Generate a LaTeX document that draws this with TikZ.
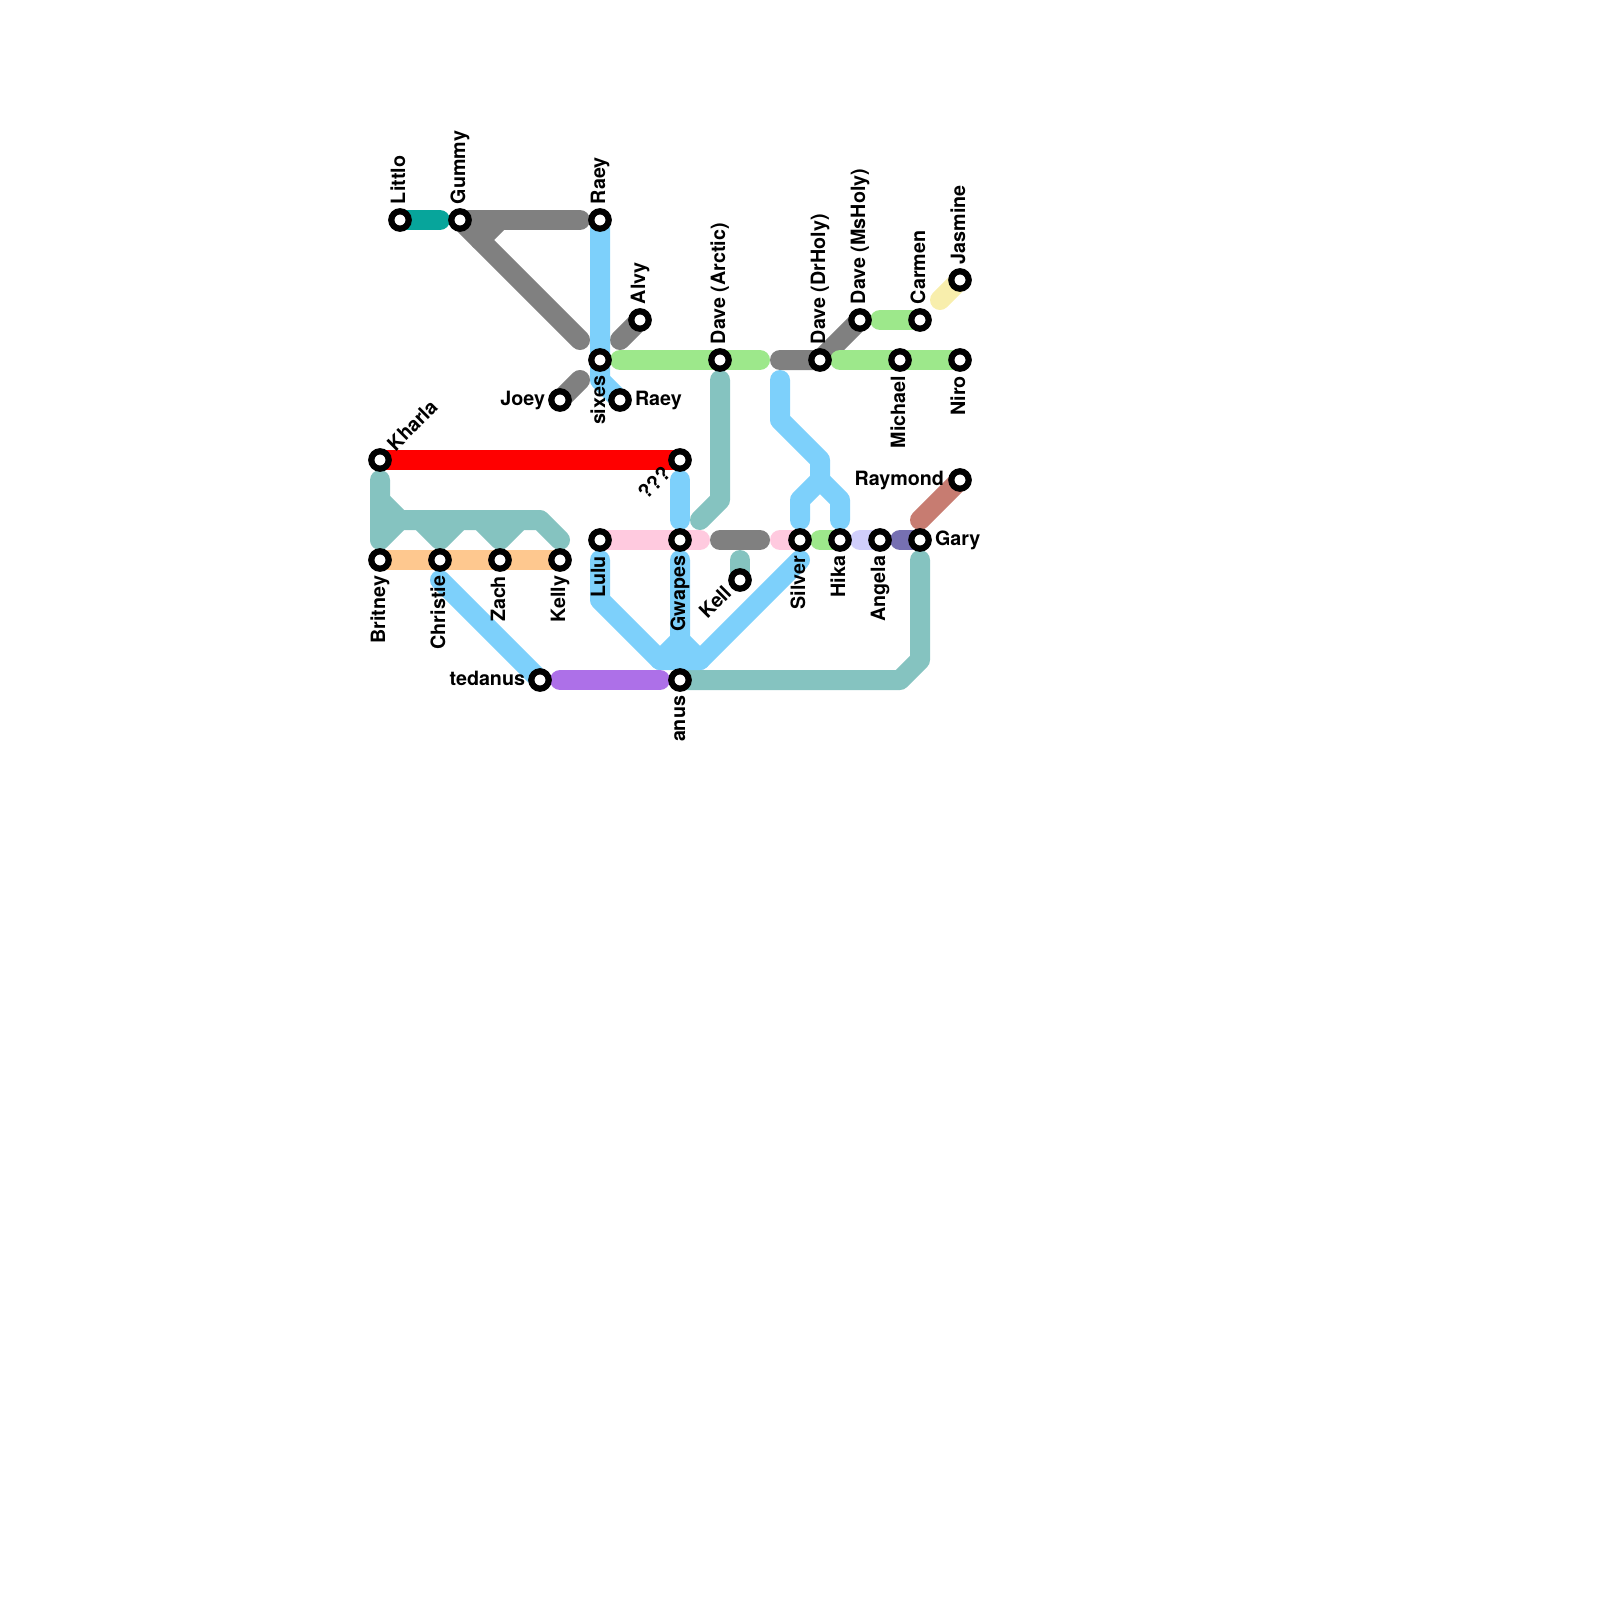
\documentclass[tikz,border=0pt]{standalone}
\usepackage{fontspec}
\setmainfont{TeX Gyre Heros}
\definecolor{cteal}{HTML}{07A59B}
\definecolor{cgrey}{HTML}{808080}
\definecolor{cblue}{HTML}{7DD0FB}
\definecolor{cgreen}{HTML}{9DE88B}
\definecolor{cfoam}{HTML}{85C3C0}
\definecolor{corange}{HTML}{FEC88F}
\definecolor{cpink}{HTML}{FFCADF}
\definecolor{cpurple}{HTML}{AD70E8}
\definecolor{clav}{HTML}{D0CEFB}
\definecolor{cslate}{HTML}{7670B2}
\definecolor{cbrown}{HTML}{C77C71}
\definecolor{cyellow}{HTML}{F8EEAC}
\tikzset{
  x=1pt,y=-1pt,
  metro/.style={line width=20pt,line cap=round,line join=round},
  stn/.style={circle,draw=black,fill=white,line width=6.2pt,minimum size=17.4pt,inner sep=0pt,outer sep=0pt},
  lab/.style={inner sep=0pt,outer sep=0pt,font=\fontsize{19.7}{24}\selectfont\bfseries,text=black},
  up/.style={lab,rotate=90,anchor=base west},
  down/.style={lab,rotate=90,anchor=base east},
  lft/.style={lab,anchor=base east},
  rgt/.style={lab,anchor=base west},
  dgup/.style={lab,rotate=45,anchor=base west},
  dgdown/.style={lab,rotate=45,anchor=base east},
}
\begin{document}
\begin{tikzpicture}
\useasboundingbox (0,0) rectangle (1600,1600);
% station positions
\coordinate (littlo) at (400,220);
\coordinate (gummy) at (460,220);
\coordinate (raeyA) at (600,220);
\coordinate (alvy) at (640,320);
\coordinate (sixes) at (600,360);
\coordinate (joey) at (560,400);
\coordinate (raeyB) at (620,400);
\coordinate (kharla) at (380,460);
\coordinate (qqq) at (680,460);
\coordinate (britney) at (380,560);
\coordinate (christie) at (440,560);
\coordinate (zach) at (500,560);
\coordinate (kelly) at (560,560);
\coordinate (lulu) at (600,540);
\coordinate (gwapes) at (680,540);
\coordinate (kell) at (740,580);
\coordinate (silver) at (800,540);
\coordinate (hika) at (840,540);
\coordinate (angela) at (880,540);
\coordinate (gary) at (920,540);
\coordinate (raymond) at (960,480);
\coordinate (tedanus) at (540,680);
\coordinate (anus) at (680,680);
\coordinate (arctic) at (720,360);
\coordinate (drholy) at (820,360);
\coordinate (msholy) at (860,320);
\coordinate (carmen) at (920,320);
\coordinate (jasmine) at (960,280);
\coordinate (michael) at (900,360);
\coordinate (niro) at (960,360);
% way points
\coordinate (g1) at (440,220);
\coordinate (g2) at (580,220);
\coordinate (g3) at (500,220);
\coordinate (g4) at (480,240);
\coordinate (g5) at (580,340);
\coordinate (g6) at (620,340);
\coordinate (g7) at (580,380);
\coordinate (g8) at (780,360);
\coordinate (g9) at (720,540);
\coordinate (g10) at (760,540);
\coordinate (b1) at (600,380);
\coordinate (b2) at (680,480);
\coordinate (b3) at (680,520);
\coordinate (b4) at (680,560);
\coordinate (b5) at (680,640);
\coordinate (b6) at (660,660);
\coordinate (b7) at (700,660);
\coordinate (b8) at (600,560);
\coordinate (b9) at (600,600);
\coordinate (b10) at (800,560);
\coordinate (b11) at (440,580);
\coordinate (b12) at (780,380);
\coordinate (b13) at (780,420);
\coordinate (b14) at (820,460);
\coordinate (b15) at (820,480);
\coordinate (b16) at (800,500);
\coordinate (b17) at (800,520);
\coordinate (b18) at (840,500);
\coordinate (b19) at (840,520);
\coordinate (f1) at (380,480);
\coordinate (f2) at (380,540);
\coordinate (f3) at (380,500);
\coordinate (f4) at (400,520);
\coordinate (f5) at (540,520);
\coordinate (f6) at (560,540);
\coordinate (f7) at (420,520);
\coordinate (f8) at (440,540);
\coordinate (f9) at (460,520);
\coordinate (f10) at (480,520);
\coordinate (f11) at (500,540);
\coordinate (f12) at (520,520);
\coordinate (f13) at (720,380);
\coordinate (f14) at (720,500);
\coordinate (f15) at (700,520);
\coordinate (f16) at (920,560);
\coordinate (f17) at (920,660);
\coordinate (f18) at (900,680);
\coordinate (f19) at (740,560);
\coordinate (n1) at (620,360);
\coordinate (n2) at (760,360);
\coordinate (n3) at (840,360);
\coordinate (n4) at (880,320);
\coordinate (n5) at (820,540);
\coordinate (p1) at (700,540);
\coordinate (p2) at (780,540);
\coordinate (v1) at (860,540);
\coordinate (v2) at (900,540);
\coordinate (u1) at (560,680);
\coordinate (u2) at (660,680);
\coordinate (y1) at (940,300);
\coordinate (br1) at (920,520);
% grey
\draw[metro,cgrey] (gummy) -- (g2);
\draw[metro,cgrey] (gummy) -- (g4) -- (g5);
\draw[metro,cgrey] (g3) -- (g4);
\draw[metro,cgrey] (alvy) -- (g6);
\draw[metro,cgrey] (joey) -- (g7);
\draw[metro,cgrey] (g8) -- (drholy) -- (msholy);
\draw[metro,cgrey] (g9) -- (g10);
% others
\draw[metro,cteal] (littlo) -- (g1);
\draw[metro,cfoam] (f1) -- (f2) -- (f4);
\draw[metro,cfoam] (f3) -- (f4) -- (f5) -- (f6);
\draw[metro,cfoam] (f7) -- (f8) -- (f9);
\draw[metro,cfoam] (f10) -- (f11) -- (f12);
\draw[metro,cfoam] (f13) -- (f14) -- (f15);
\draw[metro,cfoam] (f19) -- (kell);
\draw[metro,cfoam] (f16) -- (f17) -- (f18) -- (anus);
\draw[metro,cblue] (raeyA) -- (b1) -- (raeyB);
\draw[metro,cblue] (b2) -- (b3);
\draw[metro,cblue] (b4) -- (b5) -- (b6);
\draw[metro,cblue] (b5) -- (b7);
\draw[metro,cblue] (b8) -- (b9) -- (b6) -- (b7) -- (b10);
\draw[metro,cblue] (b11) -- (tedanus);
\draw[metro,cblue] (b12) -- (b13) -- (b14) -- (b15) -- (b16) -- (b17);
\draw[metro,cblue] (b15) -- (b18) -- (b19);
\draw[metro,red] (kharla) -- (qqq);
\draw[metro,corange] (britney) -- (kelly);
\draw[metro,cpink] (lulu) -- (p1);
\draw[metro,cpink] (p2) -- (silver);
\draw[metro,cgreen] (n1) -- (n2);
\draw[metro,cgreen] (n3) -- (niro);
\draw[metro,cgreen] (n4) -- (carmen);
\draw[metro,cgreen] (n5) -- (hika);
\draw[metro,clav] (v1) -- (angela);
\draw[metro,cslate] (v2) -- (gary);
\draw[metro,cbrown] (raymond) -- (br1);
\draw[metro,cyellow] (jasmine) -- (y1);
\draw[metro,cpurple] (u1) -- (u2);
% stations
\foreach \s in {littlo,gummy,raeyA,alvy,sixes,joey,raeyB,kharla,qqq,britney,christie,zach,kelly,lulu,gwapes,kell,silver,hika,angela,gary,raymond,tedanus,anus,arctic,drholy,msholy,carmen,jasmine,michael,niro}
  \node[stn] (st-\s) at (\s) {};
% labels
\node[up] (l-littlo) at (405,204) {Littlo};
\node[up] (l-gummy) at (465,204) {Gummy};
\node[up] (l-raeyA) at (605,204) {Raey};
\node[up] (l-alvy) at (645,304) {Alvy};
\node[up] (l-arctic) at (725,344) {Dave (Arctic)};
\node[up] (l-drholy) at (825,344) {Dave (DrHoly)};
\node[up] (l-msholy) at (865,304) {Dave (MsHoly)};
\node[up] (l-carmen) at (925,304) {Carmen};
\node[up] (l-jasmine) at (965,264) {Jasmine};
\node[down] (l-sixes) at (605,376) {sixes};
\node[down] (l-michael) at (905,376) {Michael};
\node[down] (l-niro) at (965,376) {Niro};
\node[down] (l-britney) at (385,576) {Britney};
\node[down] (l-christie) at (445,576) {Christie};
\node[down] (l-zach) at (505,576) {Zach};
\node[down] (l-kelly) at (565,576) {Kelly};
\node[down] (l-lulu) at (605,556) {Lulu};
\node[down] (l-gwapes) at (685,556) {Gwapes};
\node[down] (l-silver) at (805,556) {Silver};
\node[down] (l-hika) at (845,556) {Hika};
\node[down] (l-angela) at (885,556) {Angela};
\node[down] (l-anus) at (685,696) {anus};
\node[lft] (l-joey) at (545,405) {Joey};
\node[lft] (l-tedanus) at (525,685) {tedanus};
\node[lft] (l-raymond) at (944,485) {Raymond};
\node[rgt] (l-raeyB) at (635,405) {Raey};
\node[rgt] (l-gary) at (935,545) {Gary};
\node[dgup] (l-kharla) at (395.5,452) {Kharla};
\node[dgdown] (l-qqq) at (672,475) {???};
\node[dgdown] (l-kell) at (732.5,594.5) {Kell};
\end{tikzpicture}
\end{document}
